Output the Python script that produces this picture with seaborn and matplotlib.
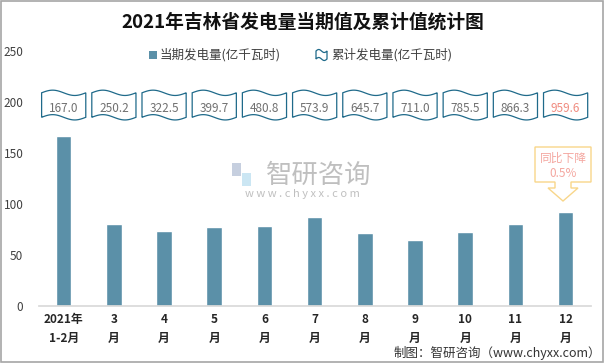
import numpy as np
import pandas as pd
import matplotlib
matplotlib.use("Agg")
import matplotlib.pyplot as plt
import seaborn as sns
from matplotlib.patches import Polygon, Rectangle

categories = ["2021年\n1-2月", "3\n月", "4\n月", "5\n月", "6\n月", "7\n月", "8\n月", "9\n月", "10\n月", "11\n月", "12\n月"]
monthly = [167.0, 80.5, 73.5, 77.5, 78.5, 87.3, 71.6, 64.7, 72.5, 80.5, 92.2]
cumulative = ["167.0", "250.2", "322.5", "399.7", "480.8", "573.9", "645.7", "711.0", "785.5", "866.3", "959.6"]
yticks = [0, 50, 100, 150, 200, 250]
title = "2021年吉林省发电量当期值及累计值统计图"
legend_labels = ["当期发电量(亿千瓦时)", "累计发电量(亿千瓦时)"]
note_lines = ["同比下降", "0.5%"]
source = "制图：智研咨询（www.chyxx.com）"

sns.set_theme(style="white")
plt.rcParams['font.family'] = ['Noto Sans CJK SC', 'DejaVu Sans']

W, H = 605, 363
fig = plt.figure(figsize=(W / 100, H / 100), dpi=100)
ax = fig.add_axes([38.6 / W, 1 - 306 / H, (590.7 - 38.6) / W, (306 - 51) / H])

def fx(px):
    return px / W

def fy(py):
    return 1 - py / H

bar_color = "#5B90A8"
df = pd.DataFrame({"cat": categories, "val": monthly})
sns.barplot(data=df, x="cat", y="val", color=bar_color, width=0.31, ax=ax, saturation=1)
ax.set_xlim(-0.5, len(categories) - 0.5)
ax.set_ylim(0, 250)
ax.set_yticks(yticks)
ax.set_xlabel("")
ax.set_ylabel("")
for s in ["top", "right", "left"]:
    ax.spines[s].set_visible(False)
ax.spines["bottom"].set_color("#D9D9D9")
ax.tick_params(axis="y", length=0, pad=11, labelsize=8.5, labelcolor="#404040")
ax.tick_params(axis="x", length=0, pad=5, labelsize=8.5, labelcolor="#262626")
for lbl in ax.get_xticklabels():
    lbl.set_fontweight("bold")
    lbl.set_linespacing(1.6)

# wave boxes with cumulative values
edge_col = "#1F6A8A"
t = np.linspace(0, 1, 60)
amp = 2.6
for i, v in enumerate(cumulative):
    x0, x1 = i - 0.44, i + 0.44
    xs = x0 + (x1 - x0) * t
    top = 209 + amp * np.sin(2 * np.pi * t)
    bot = 185 + amp * np.sin(2 * np.pi * t)
    pts = np.concatenate([np.column_stack([xs, top]), np.column_stack([xs[::-1], bot[::-1]])])
    ax.add_patch(Polygon(pts, closed=True, facecolor="white", edgecolor=edge_col, lw=0.9, zorder=3, clip_on=False))
    col = "#F08C80" if i == len(cumulative) - 1 else "#707070"
    ax.text(i, 194, v, ha="center", va="center", fontsize=8.5, color=col, zorder=4)

# title
fig.text(0.5, fy(22), title, ha="center", va="center", fontsize=13.5, fontweight="bold", color="#111111")

# legend
fig.patches.append(Rectangle((fx(149), fy(59)), 8 / W, 8 / H, transform=fig.transFigure,
                             facecolor=bar_color, edgecolor="none"))
fig.text(fx(160), fy(55), legend_labels[0], ha="left", va="center", fontsize=9, color="#404040")
tt = np.linspace(0, 1, 30)
lx = 316 + 11 * tt
ltop = 51 - 1.5 * np.sin(2 * np.pi * tt)
lbot = 59 - 1.5 * np.sin(2 * np.pi * tt)
lpts = np.concatenate([np.column_stack([fx(lx), fy(ltop)]), np.column_stack([fx(lx[::-1]), fy(lbot[::-1])])])
fig.patches.append(Polygon(lpts, closed=True, transform=fig.transFigure, facecolor="white", edgecolor=edge_col, lw=0.9))
fig.text(fx(331), fy(55), legend_labels[1], ha="left", va="center", fontsize=9, color="#404040")

# callout
cal = [(535, 147), (591, 147), (591, 182), (571, 182), (571, 188), (578, 188), (563, 201),
       (548, 188), (555, 188), (555, 182), (535, 182)]
fig.patches.append(Polygon([(fx(a), fy(b)) for a, b in cal], closed=True, transform=fig.transFigure,
                           facecolor="white", edgecolor="#F8D68A", lw=1.0, zorder=5))
fig.text(fx(563), fy(158), note_lines[0], ha="center", va="center", fontsize=8.5, color="#F4A7A0", zorder=6)
fig.text(fx(563), fy(173), note_lines[1], ha="center", va="center", fontsize=8.5, color="#F4A7A0", zorder=6)

# watermark
fig.patches.append(Rectangle((fx(232), fy(176)), 9 / W, 13 / H, transform=fig.transFigure,
                             facecolor="#B8C4D8", edgecolor="none", alpha=0.8))
fig.patches.append(Rectangle((fx(242), fy(186)), 9 / W, 13 / H, transform=fig.transFigure,
                             facecolor="#BFE0F0", edgecolor="none", alpha=0.8))
fig.text(fx(319), fy(175), "智研咨询", ha="center", va="center", fontsize=19, color="#B0B0B0", alpha=0.8)
fig.text(fx(302), fy(194), "w w w . c h y x x . c o m", ha="center", va="center", fontsize=8, color="#B0B0B0", alpha=0.8)

# source
fig.text(fx(601), fy(353), source, ha="right", va="center", fontsize=9, color="#333333")

# border
fig.patches.append(Rectangle((0.002, 0.003), 0.995, 0.994, transform=fig.transFigure,
                             facecolor="none", edgecolor="#A6A6A6", lw=1.2))

fig.savefig("out.png", dpi=100)
